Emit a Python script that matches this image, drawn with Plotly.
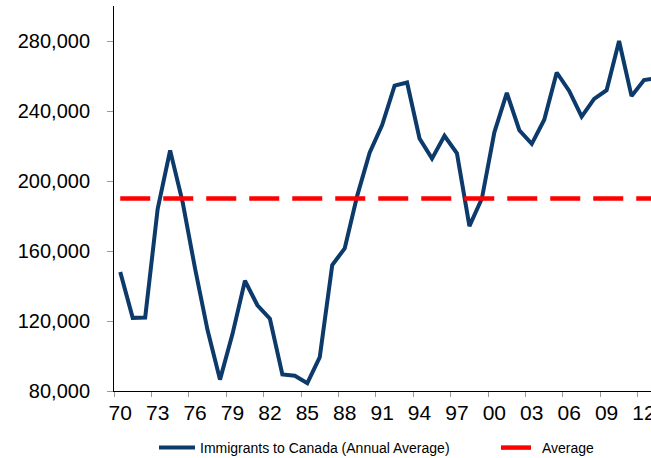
import plotly.graph_objects as go

# Annual immigrant arrivals to Canada, 1970-2013
years = list(range(1970, 2014))
year_labels = [f"{y % 100:02d}" for y in years]
immigrants = [
    148000, 121800, 122000, 184000, 217500, 188000, 150000, 114800, 86500, 112500,
    143000, 129000, 121300, 89500, 88700, 84500, 99400, 152000, 161500, 191500,
    216200, 232000, 254500, 256300, 224300, 212800, 225800, 215800, 174200, 190000,
    227800, 250300, 229000, 221200, 235000, 262000, 251500, 236800, 246900, 251900,
    280000, 248500, 257700, 258700,
]
average_level = 190000
y_ticks = [80000, 120000, 160000, 200000, 240000, 280000]

NAVY = "#0B3A6B"
RED = "#FF0000"
FONT = "Liberation Sans, Arial, sans-serif"

fig = go.Figure()
fig.add_trace(go.Scatter(
    x=year_labels, y=immigrants, mode="lines",
    name="Immigrants to Canada (Annual Average)",
    line=dict(color=NAVY, width=4),
    legend="legend",
))
fig.add_trace(go.Scatter(
    x=year_labels, y=[average_level] * len(year_labels), mode="lines",
    name="Average",
    line=dict(color=RED, width=4.5, dash="30px,13px"),
    legend="legend2",
))

legend_common = dict(
    orientation="h", xanchor="left", y=-0.148, yanchor="middle",
    font=dict(size=14, family=FONT, color="#000000"),
    bgcolor="rgba(0,0,0,0)", itemwidth=36,
)

fig.update_layout(
    width=651, height=458,
    margin=dict(l=114, r=0, t=6, b=67, autoexpand=False),
    paper_bgcolor="white", plot_bgcolor="white",
    font=dict(family=FONT, color="#000000"),
    showlegend=True,
    legend=dict(x=(154 - 114) / 537, **legend_common),
    legend2=dict(x=(496 - 114) / 537, **legend_common),
    xaxis=dict(
        type="category", range=[-0.5, 42.56],
        tickmode="linear", tick0=0, dtick=3, tickson="boundaries",
        tickangle=0,
        ticks="outside", ticklen=5, tickcolor="#999999", tickwidth=1,
        showline=True, linecolor="#000000", linewidth=1,
        showgrid=False, zeroline=False,
        tickfont=dict(size=21, family=FONT, color="#000000"),
        ticklabelstandoff=3,
        automargin=False,
    ),
    yaxis=dict(
        range=[80000, 300000], tickvals=y_ticks, tickformat=",d",
        ticks="outside", ticklen=6, tickcolor="#999999", tickwidth=1,
        showline=True, linecolor="#000000", linewidth=1,
        showgrid=False, zeroline=False,
        tickfont=dict(size=20, family=FONT, color="#000000"),
        ticklabelstandoff=13,
        automargin=False,
    ),
)

fig.write_html("out.html")
